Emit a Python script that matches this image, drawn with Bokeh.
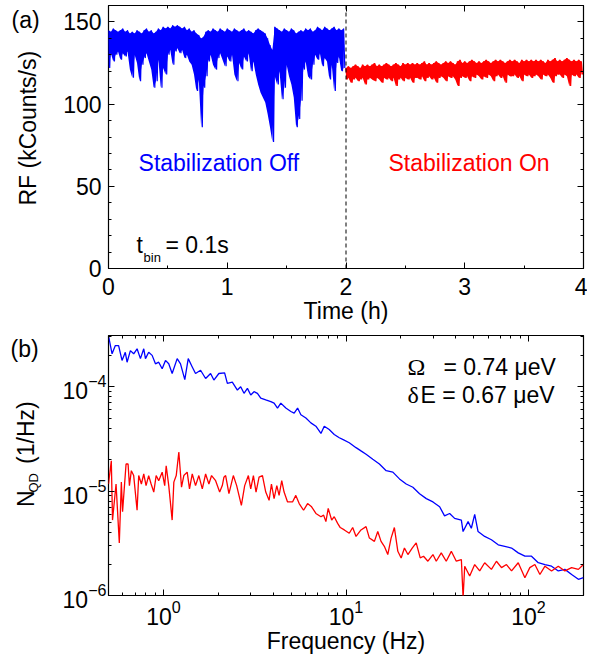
import numpy as np
from bokeh.plotting import figure
from bokeh.layouts import column, row
from bokeh.models import (Range1d, LinearAxis, LogAxis, FixedTicker, Span, Label,
                          CustomJSTickFormatter)
from bokeh.embed import file_html
from bokeh.resources import INLINE

FONT = "Liberation Sans"
SERIF = "Liberation Serif"
FS = "23px"

# ---------------- Panel (a): RF time trace (kCounts/s), 0.02 h sampling, high/low envelope of bins
blue_start, red_start, step = 0.0, 2.0, 0.02
blue_hi = [145, 144, 146, 145, 144, 145, 146, 144, 145, 143,
           144, 143, 145, 144, 143, 145, 146, 144, 145, 143,
           144, 146, 145, 147, 146, 147, 146, 148, 147, 148,
           147, 146, 147, 145, 146, 144, 145, 143, 142, 140,
           141, 144, 145, 144, 146, 145, 144, 146, 145, 144,
           146, 145, 144, 146, 145, 144, 145, 146, 144, 145,
           144, 143, 145, 146, 145, 144, 143, 140, 136, 133,
           147, 146, 145, 144, 146, 145, 144, 146, 145, 143,
           144, 145, 144, 146, 145, 146, 144, 145, 147, 146,
           145, 147, 146, 145, 146, 147, 145, 146, 145, 146]
blue_lo = [122, 131, 126, 130, 132, 127, 131, 129, 132, 121,
           116, 130, 125, 114, 124, 128, 131, 126, 121, 110,
           114, 127, 110, 122, 118, 130, 133, 124, 132, 134,
           131, 133, 128, 130, 126, 124, 118, 108, 115, 86,
           110, 117, 126, 130, 124, 121, 128, 131, 127, 123,
           129, 126, 130, 118, 114, 125, 121, 129, 126, 131,
           120, 126, 118, 112, 107, 104, 101, 94, 86, 77,
           117, 112, 120, 103, 110, 124, 117, 112, 104, 86,
           91, 102, 121, 126, 117, 115, 124, 130, 127, 131,
           123, 128, 126, 115, 124, 108, 125, 129, 120, 122]
red_hi = [122, 123, 122, 123, 124, 123, 122, 124, 123, 124,
          123, 124, 125, 123, 124, 123, 124, 125, 124, 123,
          124, 125, 124, 123, 125, 124, 125, 124, 125, 124,
          125, 124, 125, 126, 124, 125, 124, 125, 126, 125,
          124, 125, 126, 125, 126, 125, 124, 126, 127, 125,
          126, 125, 126, 127, 126, 125, 126, 125, 126, 127,
          126, 125, 126, 127, 126, 127, 126, 125, 126, 127,
          126, 127, 126, 125, 127, 126, 127, 126, 127, 126,
          127, 126, 127, 126, 125, 127, 126, 127, 128, 126,
          127, 126, 127, 128, 127, 126, 127, 126, 127, 126]
red_lo = [115, 116, 113, 115, 116, 114, 115, 116, 112, 115,
          116, 115, 114, 116, 115, 113, 116, 115, 116, 114,
          116, 111, 115, 116, 114, 116, 115, 116, 113, 116,
          116, 115, 117, 114, 116, 117, 115, 116, 113, 116,
          117, 116, 114, 117, 116, 117, 115, 111, 116, 117,
          116, 117, 114, 117, 116, 118, 117, 115, 117, 116,
          118, 117, 114, 117, 118, 116, 117, 113, 118, 117,
          117, 118, 116, 117, 114, 118, 117, 118, 116, 117,
          118, 117, 115, 118, 117, 118, 116, 113, 117, 118,
          118, 116, 118, 117, 111, 118, 117, 118, 116, 118]
time_ticks = [0, 1, 2, 3, 4]
rf_ticks = [0, 50, 100, 150]

# ---------------- Panel (b): noise spectra N_QD (1/Hz)
freq_blue = [0.50, 0.523, 0.545, 0.568, 0.593, 0.618, 0.632, 0.659, 0.687, 0.717,
             0.748, 0.780, 0.797, 0.830, 0.867, 0.904, 0.942, 0.984, 1.026, 1.069,
             1.116, 1.189, 1.240, 1.309, 1.367, 1.438, 1.499, 1.597, 1.702, 1.812,
             1.889, 2.012, 2.163, 2.239, 2.383, 2.541, 2.649, 2.762, 2.884, 3.007,
             3.134, 3.272, 3.412, 3.634, 3.873, 4.037, 4.215, 4.395, 4.681, 4.989,
             5.200, 5.430, 5.660, 6.03, 6.42, 6.84, 7.29, 7.60, 8.09, 8.62,
             9.19, 9.59, 10.42, 11.35, 12.08, 12.88, 14.02, 15.24, 16.60, 18.06,
             19.63, 21.37, 23.25, 25.29, 27.54, 29.94, 32.58, 34.67, 36.96, 39.36,
             42.85, 43.78, 46.65, 48.6, 50.7, 52.9, 57.5, 62.6, 68.2, 74.1,
             80.7, 87.8, 95.5, 103.8, 113.0, 123.0, 133.7, 145.5, 158.2, 172.2,
             187.5, 199.9]
nqd_blue = [3.08e-4, 2.07e-4, 2.48e-4, 2.48e-4, 1.79e-4, 2.14e-4, 1.72e-4, 2.22e-4, 2.07e-4, 2.31e-4,
            1.86e-4, 2.31e-4, 1.86e-4, 2.14e-4, 2.00e-4, 1.66e-4, 1.72e-4, 1.49e-4, 1.79e-4, 1.66e-4,
            1.34e-4, 1.86e-4, 1.66e-4, 1.17e-4, 1.86e-4, 1.55e-4, 1.34e-4, 1.44e-4, 1.20e-4, 1.34e-4,
            1.16e-4, 1.34e-4, 1.36e-4, 1.08e-4, 1.11e-4, 9.3e-5, 1.0e-4, 8.66e-5, 9.66e-5, 8.35e-5,
            8.97e-5, 8.66e-5, 7.77e-5, 7.48e-5, 7.21e-5, 6.97e-5, 6.25e-5, 6.97e-5, 6.25e-5, 5.80e-5,
            5.60e-5, 6.25e-5, 5.40e-5, 5.02e-5, 4.51e-5, 4.19e-5, 3.57e-5, 4.19e-5, 3.89e-5, 3.49e-5,
            3.25e-5, 3.13e-5, 2.91e-5, 2.61e-5, 2.43e-5, 2.26e-5, 2.02e-5, 1.82e-5, 1.57e-5, 1.52e-5,
            1.31e-5, 1.17e-5, 1.09e-5, 9.45e-6, 8.48e-6, 7.88e-6, 7.08e-6, 5.8e-6, 6.11e-6, 5.48e-6,
            5.28e-6, 4.10e-6, 5.10e-6, 4.41e-6, 5.98e-6, 4.10e-6, 3.68e-6, 3.42e-6, 3.06e-6, 2.96e-6,
            2.85e-6, 2.56e-6, 2.38e-6, 2.38e-6, 2.06e-6, 1.98e-6, 1.91e-6, 1.72e-6, 1.78e-6, 1.59e-6,
            1.43e-6, 1.48e-6]
freq_red = [0.500, 0.518, 0.526, 0.550, 0.573, 0.588, 0.597, 0.624, 0.640, 0.651,
            0.667, 0.687, 0.717, 0.732, 0.757, 0.780, 0.803, 0.830, 0.856, 0.885,
            0.912, 0.942, 0.984, 1.016, 1.035, 1.069, 1.116, 1.140, 1.175, 1.214,
            1.256, 1.293, 1.349, 1.389, 1.438, 1.499, 1.563, 1.632, 1.702, 1.774,
            1.835, 1.931, 2.032, 2.101, 2.144, 2.191, 2.284, 2.414, 2.518, 2.672,
            2.786, 2.919, 3.007, 3.110, 3.215, 3.340, 3.486, 3.634, 3.790, 3.905,
            4.037, 4.178, 4.30, 4.446, 4.58, 4.784, 5.094, 5.31, 5.54, 5.856,
            6.16, 6.48, 6.84, 7.29, 7.54, 7.76, 7.99, 8.35, 8.62, 9.00,
            9.30, 9.79, 10.42, 10.88, 11.35, 12.08, 12.88, 13.43, 14.31, 14.93,
            15.56, 16.22, 16.94, 17.66, 18.41, 19.23, 20.05, 20.90, 21.83, 23.05,
            24.24, 25.50, 26.59, 28.1, 29.94, 31.22, 33.25, 35.4, 37.75, 40.2,
            42.85, 43.8, 44.7, 47.6, 50.7, 54.0, 57.5, 62.6, 66.7, 71.1,
            75.7, 80.7, 87.8, 95.5, 101.6, 108.3, 115.4, 123.0, 133.7, 145.5,
            158.2, 172.2, 187.5, 199.9]
nqd_red = [1.17e-5, 1.95e-5, 5.28e-6, 1.17e-5, 3.19e-6, 1.22e-5, 6.34e-6, 1.82e-5, 1.82e-5, 1.13e-5,
           1.57e-5, 1.41e-5, 6.56e-6, 1.41e-5, 1.17e-5, 1.46e-5, 1.13e-5, 1.41e-5, 1.17e-5, 9.80e-6,
           1.41e-5, 1.26e-5, 1.52e-5, 1.13e-5, 1.75e-5, 1.13e-5, 5.28e-6, 1.22e-5, 1.41e-5, 2.37e-5,
           1.09e-5, 1.41e-5, 1.52e-5, 1.05e-5, 1.46e-5, 1.13e-5, 1.41e-5, 1.05e-5, 1.46e-5, 1.17e-5,
           1.41e-5, 1.26e-5, 9.80e-6, 1.13e-5, 1.36e-5, 1.41e-5, 9.45e-6, 1.41e-5, 1.13e-5, 7.32e-6,
           1.13e-5, 1.41e-5, 1.05e-5, 1.41e-5, 9.80e-6, 1.36e-5, 1.41e-5, 9.80e-6, 8.17e-6, 1.17e-5,
           8.48e-6, 1.13e-5, 9.1e-6, 1.26e-5, 9.80e-6, 7.88e-6, 7.88e-6, 9.1e-6, 7.6e-6, 6.56e-6,
           7.6e-6, 7.08e-6, 6.11e-6, 5.69e-6, 5.89e-6, 5.10e-6, 6.82e-6, 5.28e-6, 5.69e-6, 4.91e-6,
           4.48e-6, 4.25e-6, 3.95e-6, 4.48e-6, 3.68e-6, 4.25e-6, 4.57e-6, 3.55e-6, 3.30e-6, 4.10e-6,
           3.30e-6, 2.96e-6, 2.47e-6, 3.55e-6, 4.48e-6, 2.65e-6, 2.29e-6, 2.85e-6, 2.47e-6, 2.85e-6,
           3.19e-6, 2.29e-6, 2.38e-6, 2.13e-6, 2.47e-6, 2.13e-6, 2.56e-6, 2.13e-6, 2.65e-6, 2.13e-6,
           2.21e-6, 9.5e-7, 1.91e-6, 1.54e-6, 1.98e-6, 1.72e-6, 2.06e-6, 1.78e-6, 2.13e-6, 1.85e-6,
           1.98e-6, 1.72e-6, 2.06e-6, 1.48e-6, 1.85e-6, 1.98e-6, 1.59e-6, 1.91e-6, 1.72e-6, 1.91e-6,
           1.72e-6, 1.85e-6, 1.78e-6, 1.98e-6]
freq_ticks = [1, 10, 100]
nqd_ticks = [1e-6, 1e-5, 1e-4]

LW = 56            # width of the side strip holding the panel letters and y titles
W, H1, H2 = 587, 330, 326


def bin_times(start, n):
    return [start + i * step for i in range(n)]


def interleave(start, hi, lo):
    t, v = [], []
    for i, (h, l) in enumerate(zip(hi, lo)):
        t += [start + i * step, start + i * step + step / 2]
        v += [h, l]
    return t, v


def style_axis(ax, labels=True):
    ax.axis_line_color = None
    ax.major_tick_in = 6
    ax.major_tick_out = 0
    ax.minor_tick_in = 3
    ax.minor_tick_out = 0
    ax.major_tick_line_color = "black"
    ax.minor_tick_line_color = "black"
    ax.major_label_text_font = FONT
    ax.major_label_text_font_size = FS
    ax.major_label_text_color = "black"
    ax.axis_label_text_font = FONT
    ax.axis_label_text_font_size = FS
    ax.axis_label_text_font_style = "normal"
    ax.axis_label_text_color = "black"
    if not labels:
        ax.formatter = CustomJSTickFormatter(code="return ''")
        ax.major_label_standoff = 0


def lab(p, x, y, text, size=FS, color="black", align="left", baseline="middle",
        angle=0.0, font=FONT):
    p.add_layout(Label(x=x, y=y, text=text, text_font=font, text_font_size=size,
                       text_color=color, text_align=align, text_baseline=baseline,
                       angle=angle))


def strip(height):
    s = figure(width=LW, height=height, output_backend="svg", toolbar_location=None,
               x_range=Range1d(0, LW), y_range=Range1d(height, 0),
               min_border=0, x_axis_location=None, y_axis_location=None)
    s.outline_line_color = None
    s.xgrid.visible = False
    s.ygrid.visible = False
    return s


# ---------------- figure (a)
p1 = figure(width=W - LW, height=H1, output_backend="svg", toolbar_location=None,
            x_range=Range1d(0, 4), y_range=Range1d(0, 160),
            min_border_left=108 - LW, min_border_right=4, min_border_top=5, min_border_bottom=62,
            x_axis_location=None, y_axis_location=None)
p1.outline_line_color = "black"
p1.outline_line_width = 1.2
p1.xgrid.visible = False
p1.ygrid.visible = False
xt = FixedTicker(ticks=time_ticks, minor_ticks=[0.5, 1.5, 2.5, 3.5])
yt = FixedTicker(ticks=rf_ticks, minor_ticks=list(range(0, 161, 10)))
for loc, lbl in (("below", True), ("above", False)):
    ax = LinearAxis(ticker=xt)
    style_axis(ax, lbl)
    if lbl:
        ax.major_label_standoff = 9
        ax.axis_label = "Time (h)"
        ax.axis_label_standoff = 0
    p1.add_layout(ax, loc)
for loc, lbl in (("left", True), ("right", False)):
    ax = LinearAxis(ticker=yt)
    style_axis(ax, lbl)
    if lbl:
        ax.major_label_standoff = 7
    p1.add_layout(ax, loc)

p1.varea(x=bin_times(blue_start, len(blue_hi)), y1=blue_hi, y2=blue_lo, fill_color="#0000FF")
p1.varea(x=bin_times(red_start, len(red_hi)), y1=red_hi, y2=red_lo, fill_color="#FF0000")
bt, bv = interleave(blue_start, blue_hi, blue_lo)
rt, rv = interleave(red_start, red_hi, red_lo)
p1.line(bt, bv, line_color="#0000FF", line_width=1.2)
p1.line(rt, rv, line_color="#FF0000", line_width=1.6)
p1.add_layout(Span(location=2, dimension="height", line_color="black",
                   line_dash="4 3", line_width=1))

lab(p1, 0.253, 63.9, "Stabilization Off", color="#0000FF")
lab(p1, 2.358, 63.9, "Stabilization On", color="#FF0000")
lab(p1, 0.236, 14.6, "t")
lab(p1, 0.295, 6.7, "bin", size="13px")
lab(p1, 0.48, 14.6, "= 0.1s")

s1 = strip(H1)
lab(s1, 11, 18, "(a)")
lab(s1, 27, 154, "RF (kCounts/s)", align="center", angle=np.pi / 2)

# ---------------- figure (b)
p2 = figure(width=W - LW, height=H2, output_backend="svg", toolbar_location=None,
            x_axis_type="log", y_axis_type="log",
            x_range=Range1d(0.5, 200), y_range=Range1d(1e-6, 3.1e-4),
            min_border_left=108 - LW, min_border_right=4, min_border_top=5, min_border_bottom=58,
            x_axis_location=None, y_axis_location=None)
p2.outline_line_color = "black"
p2.outline_line_width = 1.2
p2.xgrid.visible = False
p2.ygrid.visible = False
fminor = [m * d for d in (0.1, 1, 10, 100) for m in range(2, 10)]
nminor = [m * d for d in (1e-6, 1e-5, 1e-4) for m in range(2, 10)]
xt2 = FixedTicker(ticks=freq_ticks, minor_ticks=fminor)
yt2 = FixedTicker(ticks=nqd_ticks, minor_ticks=nminor)
for loc, lbl in (("below", True), ("above", False)):
    ax = LogAxis(ticker=xt2)
    style_axis(ax, lbl)
    if lbl:
        ax.major_label_standoff = 4
        ax.axis_label = "Frequency (Hz)"
        ax.axis_label_standoff = 0
    p2.add_layout(ax, loc)
for loc, lbl in (("left", True), ("right", False)):
    ax = LogAxis(ticker=yt2)
    style_axis(ax, lbl)
    if lbl:
        ax.major_label_standoff = 2
    p2.add_layout(ax, loc)

p2.line(freq_blue, nqd_blue, line_color="#0000FF", line_width=1.3)
p2.line(freq_red, nqd_red, line_color="#FF0000", line_width=1.3)

lab(p2, 21.7, 1.54e-4, "Ω", size="24px", font=SERIF)
lab(p2, 34.2, 1.54e-4, "= 0.74 μeV")
lab(p2, 21.7, 8.35e-5, "δ", size="24px", font=SERIF)
lab(p2, 25.6, 8.35e-5, "E = 0.67 μeV")

s2 = strip(H2)
lab(s2, 10, 17, "(b)")
lab(s2, 25, 215, "N", angle=np.pi / 2)
lab(s2, 33, 197, "QD", size="13px", angle=np.pi / 2)
lab(s2, 25, 161, "(1/Hz)", angle=np.pi / 2)

layout = column(row(s1, p1), row(s2, p2))
open("out.html", "w").write(file_html(layout, INLINE))
